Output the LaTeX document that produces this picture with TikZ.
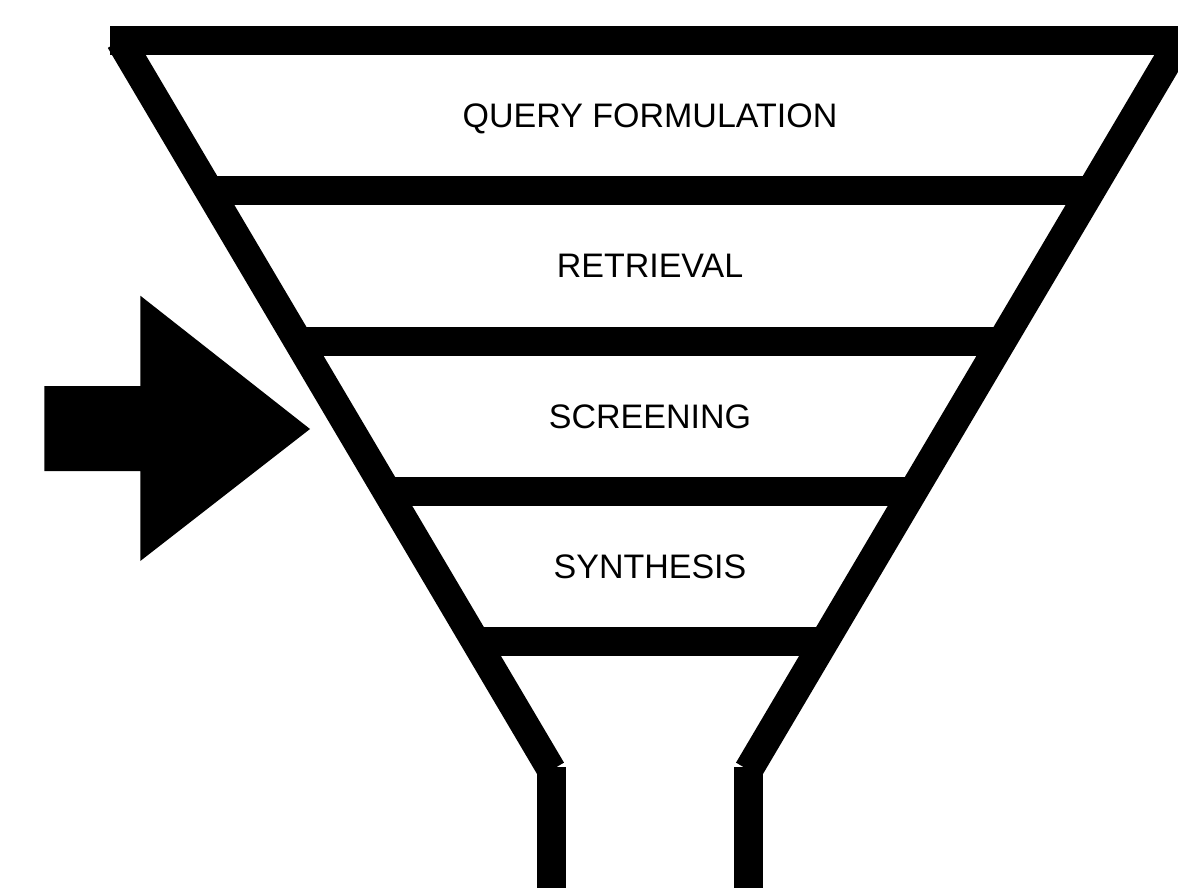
\documentclass[tikz,border=0pt]{standalone}
\usepackage{fontspec}
\setmainfont{Liberation Sans}
\begin{document}
\begin{tikzpicture}[x=1pt,y=-1pt,
  wall/.style={line width=29pt,line cap=butt,draw=black},
  stage/.style={anchor=base,font=\fontsize{34}{40}\selectfont,inner sep=0pt},
  bigarrow/.style={fill=black,draw=none}]
\useasboundingbox (0,0) rectangle (1178,896);
\begin{scope}
\clip (0,0) rectangle (1178,896);
% funnel walls
\draw[wall] (120.3,40.5) -- (551.5,770);
\draw[wall] (1179.7,40.5) -- (748.5,770);
% spout
\draw[wall] (551.5,767) -- (551.5,888);
\draw[wall] (748.5,767) -- (748.5,888);
% rim and stage dividers
\draw[wall] (110,40.5) -- (1185,40.5);
\draw[wall] (216.8,190.8) -- (1083.2,190.8);
\draw[wall] (305.8,341) -- (994.2,341);
\draw[wall] (394.5,491.3) -- (905.5,491.3);
\draw[wall] (483.3,641.5) -- (816.7,641.5);
\end{scope}
% stage labels
\node[stage] (query)  at (650,127.5) {QUERY FORMULATION};
\node[stage] (retr)   at (650,277.8) {RETRIEVAL};
\node[stage] (screen) at (650,428.1) {SCREENING};
\node[stage] (synth)  at (650,578.4) {SYNTHESIS};
% input arrow
\fill[bigarrow] (44.3,386) -- (140.3,386) -- (140.3,295.7) -- (310,429)
  -- (140.3,561) -- (140.3,471) -- (44.3,471) -- cycle;
\end{tikzpicture}
\end{document}
